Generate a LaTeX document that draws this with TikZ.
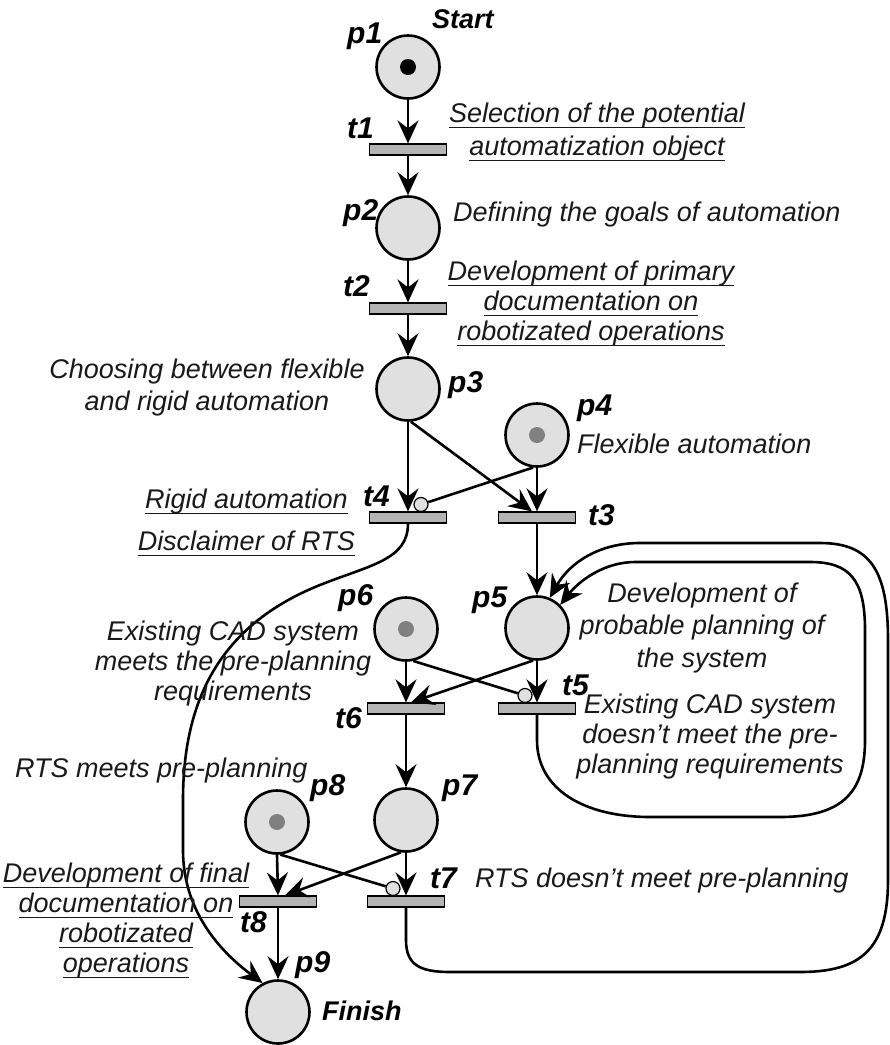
\documentclass[tikz,border=0pt]{standalone}
\usepackage{fontspec}
\setmainfont{Liberation Sans}
\usetikzlibrary{arrows.meta}
\definecolor{placefill}{RGB}{224,224,224}
\definecolor{transfill}{RGB}{180,180,180}
\definecolor{tokengray}{RGB}{128,128,128}
\definecolor{inktext}{RGB}{25,25,25}
\newcommand{\lblsize}[1]{\fontsize{27}{#1}\selectfont\itshape}
% underlined text with a fixed rule depth
\newcommand{\uln}[1]{\setbox0\hbox{#1}\rlap{\rule[-5.9pt]{\wd0}{1.4pt}}\box0}

\begin{document}
\begin{tikzpicture}[x=1pt,y=-1pt,
  place/.style={circle, draw, line width=2.6pt, fill=placefill, minimum size=63pt, inner sep=0pt},
  trans/.style={rectangle, draw, line width=1.2pt, fill=transfill, minimum width=77pt, minimum height=11pt, inner sep=0pt},
  inhib/.style={circle, draw, line width=1.2pt, fill=placefill, minimum size=14pt, inner sep=0pt},
  token/.style={circle, minimum size=16pt, inner sep=0pt},
  arc/.style={line width=2.6pt, -{Stealth[length=23pt,width=21pt,inset=8pt]}},
  plainarc/.style={line width=2.6pt},
  lbl/.style={font=\lblsize{32}, text=inktext, inner sep=0pt, align=center},
  tag/.style={font=\fontsize{30}{32}\selectfont\bfseries\itshape, inner sep=0pt},
  tagword/.style={font=\fontsize{27}{32}\selectfont\bfseries\itshape, inner sep=0pt}]

\path[use as bounding box] (0,0) rectangle (890,1045);

% places
\node[place] (p1) at (408,67) {};
\node[place] (p2) at (408,228) {};
\node[place] (p3) at (408,389) {};
\node[place] (p4) at (537,435) {};
\node[place] (p5) at (537,628) {};
\node[place] (p6) at (406,629) {};
\node[place] (p7) at (406,820) {};
\node[place] (p8) at (277,822) {};
\node[place] (p9) at (278,1012) {};

% tokens
\node[token, fill=black] (p1tok) at (p1) {};
\node[token, fill=tokengray] (p4tok) at (p4) {};
\node[token, fill=tokengray] (p6tok) at (p6) {};
\node[token, fill=tokengray] (p8tok) at (p8) {};

% transitions
\node[trans] (t1) at (408,149.5) {};
\node[trans] (t2) at (408,308.5) {};
\node[trans] (t4) at (408,517.5) {};
\node[trans] (t3) at (537,517.5) {};
\node[trans] (t6) at (406,708.5) {};
\node[trans] (t5) at (537,708.5) {};
\node[trans] (t8) at (278,901.5) {};
\node[trans] (t7) at (406,901.5) {};

% inhibitor ends
\node[inhib] (i4) at (421,504.5) {};
\node[inhib] (i5) at (525,695.5) {};
\node[inhib] (i7) at (393,888.5) {};

% main chain
\draw[arc] (p1.south) -- (t1.north);
\draw[arc] (t1.south) -- (p2.north);
\draw[arc] (p2.south) -- (t2.north);
\draw[arc] (t2.south) -- (p3.north);
\draw[arc] (p3.south) -- (t4.north);
\draw[arc] (p3.-85) -- ([xshift=-5pt]t3.north);
\draw[arc] (p4.south) -- (t3.north);
\draw[plainarc] (p4.-97) -- (i4);
\draw[arc] (t3.south) -- (p5.north);
\draw[arc] (p5.south) -- (t5.north);
\draw[arc] (p6.south) -- (t6.north);
\draw[arc] (p5.-97) -- ([xshift=5pt]t6.north);
\draw[plainarc] (p6.-77) -- (i5);
\draw[arc] (t6.south) -- (p7.north);
\draw[arc] (p8.south) -- (t8.north);
\draw[arc] (p7.south) -- (t7.north);
\draw[arc] (p7.-99) -- ([xshift=7pt]t8.north);
\draw[plainarc] (p8.-84) -- (i7);
\draw[arc] (t8.south) -- (p9.north);

% rigid automation abandoned: t4 to p9
\draw[arc] (t4.south) .. controls (408,560) and (370,565) .. (320,585)
  .. controls (220,625) and (183,700) .. (183,800) -- (183,850)
  .. controls (183,915) and (225,955) .. (p9.118);

% outer loop: t7 back to p5
\draw[arc] (t7.south) -- (406,940) .. controls (406,965) and (420,972) .. (450,972)
  -- (800,972) .. controls (860,972) and (888,950) .. (888,880)
  -- (888,640) .. controls (888,570) and (870,543) .. (820,543)
  -- (640,543) .. controls (600,543) and (570,562) .. (p5.67);

% inner loop: t5 back to p5
\draw[arc] (t5.south) -- (537,740) .. controls (537,790) and (585,817) .. (650,817)
  -- (780,817) .. controls (845,817) and (865,790) .. (865,740)
  -- (865,630) .. controls (865,580) and (850,562) .. (810,562)
  -- (635,562) .. controls (605,562) and (580,580) .. (p5.45);

% place and transition names
\node[tag, anchor=base west] (lp1) at (347,43) {p1};
\node[tagword, anchor=base west] (lstart) at (432,28) {Start};
\node[tag, anchor=base west] (lt1) at (347,138) {t1};
\node[tag, anchor=base west] (lp2) at (343,220) {p2};
\node[tag, anchor=base west] (lt2) at (343,296) {t2};
\node[tag, anchor=base west] (lp3) at (448,392) {p3};
\node[tag, anchor=base west] (lp4) at (577,415) {p4};
\node[tag, anchor=base west] (lt4) at (363,506) {t4};
\node[tag, anchor=base west] (lt3) at (588,525) {t3};
\node[tag, anchor=base west] (lp6) at (338,605) {p6};
\node[tag, anchor=base west] (lp5) at (472,607) {p5};
\node[tag, anchor=base west] (lt6) at (335,728) {t6};
\node[tag, anchor=base west] (lt5) at (562,695) {t5};
\node[tag, anchor=base west] (lp8) at (310,795) {p8};
\node[tag, anchor=base west] (lp7) at (442,795) {p7};
\node[tag, anchor=base west] (lt7) at (430,888) {t7};
\node[tag, anchor=base west] (lt8) at (240,932) {t8};
\node[tag, anchor=base west] (lp9) at (295,972) {p9};
\node[tagword, anchor=base west] (lfinish) at (322,1020) {Finish};

% descriptions (multi-line ones are placed by their top edge)
\node[lbl, font=\lblsize{33}, anchor=north] (d1) at (597,102.3)
  {\uln{Selection of the potential}\\\uln{automatization object}};
\node[lbl, anchor=base west] (d2) at (453,221) {Defining the goals of automation};
\node[lbl, font=\lblsize{30}, anchor=north] (d3) at (591,260.3)
  {\uln{Development of primary}\\\uln{documentation on}\\\uln{robotizated operations}};
\node[lbl, anchor=north] (d4) at (207,358.3) {Choosing between flexible\\and rigid automation};
\node[lbl, anchor=base west] (d5) at (577,453) {Flexible automation};
\node[lbl, anchor=base east] (d6) at (348,508) {\uln{Rigid automation}};
\node[lbl, anchor=base east] (d7) at (355,550) {\uln{Disclaimer of RTS}};
\node[lbl, font=\lblsize{32.5}, anchor=north] (d8) at (702,582.3)
  {Development of\\probable planning of\\the system};
\node[lbl, font=\lblsize{30}, anchor=north] (d9) at (233,620.3)
  {Existing CAD system\\meets the pre-planning\\requirements};
\node[lbl, font=\lblsize{30}, anchor=north] (d10) at (710,693.3)
  {Existing CAD system\\doesn’t meet the pre-\\planning requirements};
\node[lbl, anchor=base west] (d11) at (15,777) {RTS meets pre-planning};
\node[lbl, anchor=base west] (d12) at (475,887) {RTS doesn’t meet pre-planning};
\node[lbl, font=\lblsize{30}, anchor=north] (d13) at (126,862.3)
  {\uln{Development of final}\\\uln{documentation on}\\\uln{robotizated}\\\uln{operations}};
\end{tikzpicture}
\end{document}
